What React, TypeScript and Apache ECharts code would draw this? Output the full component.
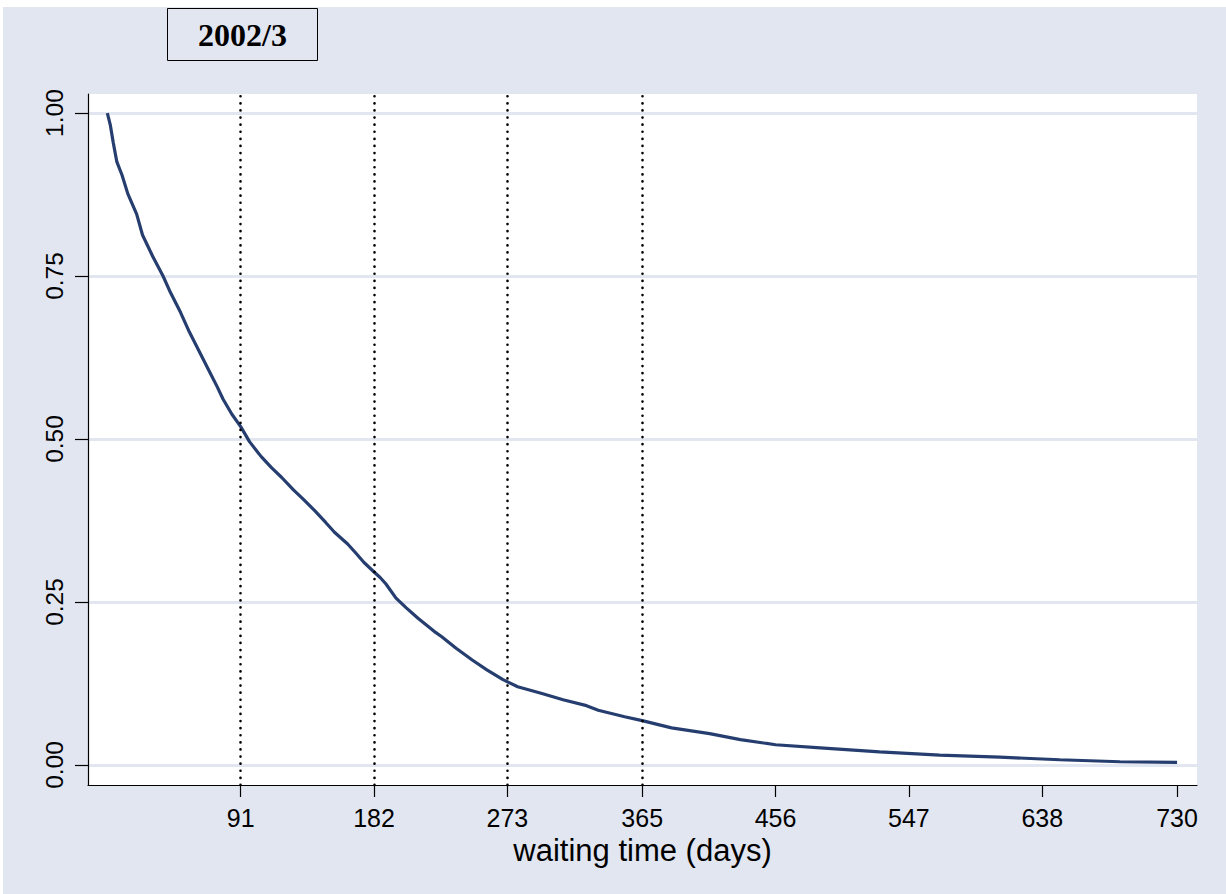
import React, { useEffect, useRef } from "react";
import * as echarts from "echarts";

// Kaplan-Meier style waiting-time curve
const days = [
  0, 2, 4, 6.5, 10, 14, 20, 24, 31, 38, 43, 50, 56, 63, 70, 75, 79, 85, 91, 97,
  105, 112, 119, 127, 134, 142, 149, 155, 164, 170, 175, 182, 186, 190, 197, 204,
  212, 223, 228, 238, 249, 259, 270, 280, 296, 311, 327, 335, 353, 365, 385, 411,
  432, 456, 489, 527, 568, 609, 650, 691, 730,
];
const survival = [
  1.0, 0.982, 0.955, 0.925, 0.905, 0.876, 0.845, 0.813, 0.78, 0.75, 0.725, 0.694,
  0.664, 0.633, 0.602, 0.58, 0.561, 0.538, 0.519, 0.496, 0.473, 0.456, 0.441,
  0.422, 0.407, 0.389, 0.372, 0.357, 0.339, 0.324, 0.311, 0.296, 0.288, 0.278,
  0.256, 0.241, 0.225, 0.205, 0.197, 0.179, 0.161, 0.146, 0.131, 0.12, 0.11, 0.1,
  0.091, 0.084, 0.074, 0.068, 0.057, 0.048, 0.039, 0.031, 0.026, 0.02, 0.015,
  0.012, 0.008, 0.005, 0.004,
];
const xTicks = [91, 182, 273, 365, 456, 547, 638, 730];
const yTicks = [0, 0.25, 0.5, 0.75, 1];
const refLines = [91, 182, 273, 365];
const chartTitle = "2002/3";
const xTitle = "waiting time (days)";

const BG = "#E1E6F0";
const LINE = "#263E6F";
const SANS = "'Liberation Sans', Arial, sans-serif";

export default function App() {
  const ref = useRef<HTMLDivElement>(null);
  useEffect(() => {
    const chart = echarts.init(ref.current!, null, { renderer: "svg" });
    chart.setOption({
      animation: false,
      backgroundColor: BG,
      title: {
        text: chartTitle,
        left: 164,
        top: 2,
        borderColor: "#000",
        borderWidth: 1,
        padding: [10, 31],
        textStyle: {
          fontFamily: "'Liberation Serif', 'Times New Roman', serif",
          fontWeight: "bold",
          fontSize: 32,
          lineHeight: 31,
          color: "#000",
        },
      },
      grid: {
        left: 85,
        right: 29,
        top: 87,
        bottom: 109,
        show: true,
        backgroundColor: "#fff",
        borderWidth: 0,
      },
      xAxis: {
        type: "value",
        min: -13.2,
        max: 743.6,
        axisLine: { show: true, onZero: false, lineStyle: { color: "#000", width: 1.2 } },
        axisTick: { show: true, customValues: xTicks, length: 12, lineStyle: { color: "#000", width: 1.2 } },
        axisLabel: {
          customValues: xTicks,
          fontSize: 25,
          fontFamily: SANS,
          color: "#000",
          margin: 20,
        },
        splitLine: { show: false },
        name: xTitle,
        nameLocation: "middle",
        nameGap: 47,
        nameTextStyle: { fontSize: 31, fontFamily: SANS, color: "#000" },
      },
      yAxis: {
        type: "value",
        min: -0.0307,
        max: 1.0292,
        axisLine: { show: true, onZero: false, lineStyle: { color: "#000", width: 1.2 } },
        axisTick: { show: true, customValues: yTicks, length: 13, lineStyle: { color: "#000", width: 1.2 } },
        axisLabel: {
          customValues: yTicks,
          formatter: (v: number) => v.toFixed(2),
          rotate: 90,
          fontSize: 24.5,
          fontFamily: SANS,
          color: "#000",
          margin: 21,
        },
        splitLine: { show: true, lineStyle: { color: BG, width: 3 } },
      },
      series: [
        {
          type: "line",
          data: days.map((d, i) => [d, survival[i]]),
          showSymbol: false,
          lineStyle: { color: LINE, width: 3.2 },
          silent: true,
          markLine: {
            silent: true,
            symbol: "none",
            label: { show: false },
            lineStyle: { color: "#000", width: 2.6, type: [0.1, 7], cap: "round" },
            data: refLines.map((v) => ({ xAxis: v })),
          },
        },
      ],
    });
    return () => chart.dispose();
  }, []);
  return (
    <div
      ref={ref}
      style={{ position: "fixed", left: 3, top: 7, width: 1223, height: 887 }}
    />
  );
}
